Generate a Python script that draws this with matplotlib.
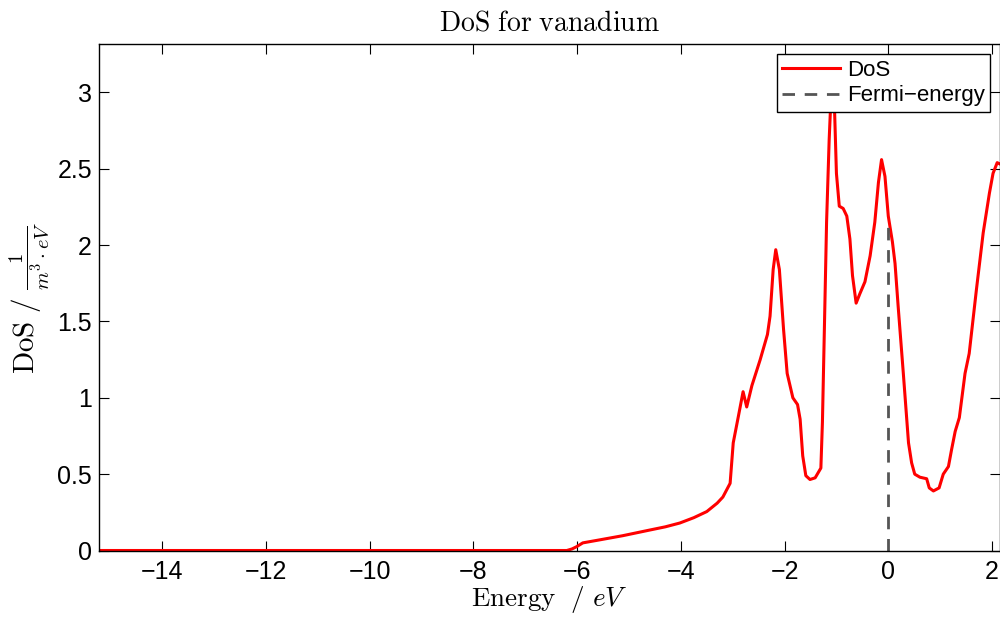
import numpy as np
import matplotlib
matplotlib.use('Agg')
from matplotlib import pyplot as plt

# energy grid (eV) and density of states
energy = [-15.22, -6.2, -6.1, -6.01, -5.89, -5.56, -5.12, -4.6, -4.3, -4.02, -3.75,
          -3.5, -3.3, -3.19, -3.05,
          -2.99, -2.89, -2.80, -2.73, -2.63, -2.47, -2.33, -2.28, -2.22, -2.17,
          -2.10, -2.02, -1.95, -1.84, -1.75, -1.70, -1.65, -1.59, -1.51, -1.41,
          -1.30, -1.27, -1.23, -1.19, -1.14, -1.11, -1.07, -1.04, -1.0, -0.945,
          -0.87, -0.80, -0.74, -0.69, -0.62, -0.55, -0.45, -0.35, -0.26, -0.19,
          -0.13, -0.064, 0.0, 0.08, 0.13, 0.19, 0.29, 0.39, 0.45, 0.51, 0.61,
          0.74, 0.79, 0.87, 0.98, 1.06, 1.16, 1.22, 1.29, 1.37, 1.48, 1.56, 1.70,
          1.83, 1.95, 2.02, 2.10, 2.16]
dos = [0.0, 0.0, 0.01, 0.025, 0.05, 0.07, 0.097, 0.134, 0.155, 0.18, 0.215,
       0.255, 0.31, 0.35, 0.44,
       0.705, 0.88, 1.04, 0.94, 1.08, 1.25, 1.415, 1.535, 1.84, 1.97,
       1.84, 1.45, 1.16, 1.0, 0.956, 0.86, 0.62, 0.49, 0.465, 0.476,
       0.54, 0.84, 1.49, 2.15, 2.69, 2.93, 3.0, 2.93, 2.47, 2.255,
       2.24, 2.19, 2.04, 1.80, 1.62, 1.68, 1.76, 1.93, 2.15, 2.41,
       2.56, 2.45, 2.19, 2.02, 1.88, 1.60, 1.16, 0.705, 0.574, 0.50, 0.48,
       0.47, 0.41, 0.39, 0.41, 0.50, 0.55, 0.66, 0.78, 0.87, 1.16, 1.29, 1.71,
       2.08, 2.34, 2.47, 2.54, 2.53]
fermi_energy = 0.0
fermi_dos = 2.135

plt.rcParams['mathtext.fontset'] = 'cm'
plt.rcParams['font.family'] = ['Liberation Sans', 'DejaVu Sans']

fig = plt.figure(figsize=(10, 6.26), dpi=100)
ax = fig.add_axes([0.099, 0.1206, 0.9013, 0.8086])

ax.plot(energy, dos, color='red', lw=2.2, label='DoS')
ax.plot([fermi_energy, fermi_energy], [0, fermi_dos], color='#555555', lw=2,
        dashes=(4.5, 3.5), label='Fermi\u2212energy')

ax.set_xlim(-15.22, 2.16)
ax.set_ylim(0, 3.315)
ax.set_xticks(np.arange(-14, 3, 2))
ax.set_yticks([0, 0.5, 1, 1.5, 2, 2.5, 3])
ax.set_yticklabels(['0', '0.5', '1', '1.5', '2', '2.5', '3'])
ax.tick_params(direction='in', top=True, right=True, length=7, width=0.8,
               labelsize=18)
ax.tick_params(axis='x', pad=7)
ax.tick_params(axis='y', pad=5)
for s in ax.spines.values():
    s.set_linewidth(1.0)

ax.set_title(r'$\mathrm{DoS\ for\ vanadium}$', fontsize=20, pad=10)
ax.set_xlabel(r'$\mathrm{Energy\ \ /\ }eV$', fontsize=19.5, labelpad=0)
ax.set_ylabel(r'$\mathrm{DoS\ /\ }\frac{1}{m^3\cdot eV}$', fontsize=21,
              labelpad=4)

leg = ax.legend(loc='upper right', fontsize=16, fancybox=False,
                edgecolor='black', framealpha=1, handlelength=2.6,
                handletextpad=0.3, labelspacing=0.2, borderpad=0.25,
                borderaxespad=0.45)
leg.get_frame().set_linewidth(1.0)

fig.savefig('out.png', dpi=100)
